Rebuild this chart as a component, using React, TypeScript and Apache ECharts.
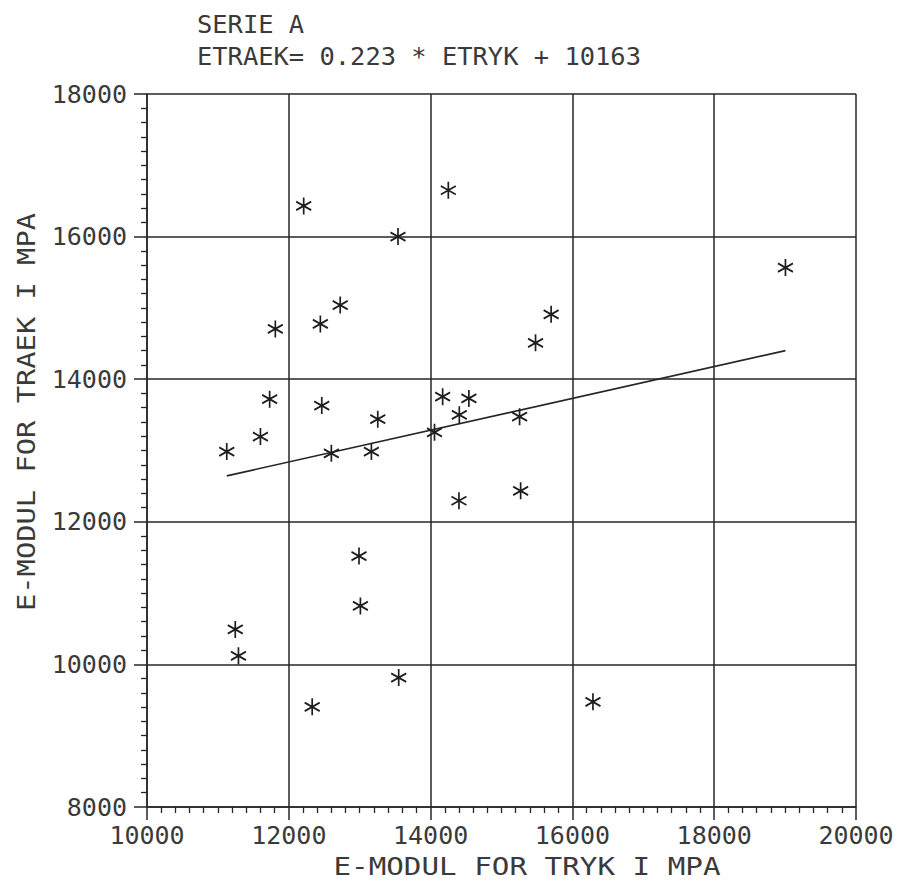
import React, { useEffect, useRef } from "react";
import * as echarts from "echarts";

const titleLines = ["SERIE A", "ETRAEK= 0.223 * ETRYK + 10163"];
const xName = "E-MODUL FOR TRYK I MPA";
const yName = "E-MODUL FOR TRAEK I MPA";

const xMin = 10000, xMax = 20000, xStep = 2000;
const yMin = 8000, yMax = 18000, yStep = 2000;

const eTryk = [
  12210, 14250, 13540, 12725, 12445, 11810, 15700, 15480, 11730, 12465,
  13255, 11600, 11125, 12600, 13165, 14055, 14170, 14540, 14405, 15255,
  14400, 15270, 12990, 13010, 11245, 11290, 13550, 12330, 16290, 19005,
];
const eTraek = [
  16430, 16650, 16000, 15040, 14775, 14705, 14910, 14510, 13720, 13630,
  13440, 13195, 12985, 12960, 12985, 13255, 13755, 13730, 13500, 13475,
  12295, 12435, 11520, 10820, 10490, 10120, 9815, 9405, 9475, 15565,
];
const slope = 0.223;
const intercept = 10163;
const lineX = [11125, 19005];

const INK = "#262626";
const TXT = "#3a3a3a";
const FONT = "'DejaVu Sans Mono', monospace";

export default function App() {
  const ref = useRef<HTMLDivElement>(null);
  useEffect(() => {
    if (!ref.current) return;
    const chart = echarts.init(ref.current, null, { renderer: "svg" });
    const pts = eTryk.map((x, i) => [x, eTraek[i]]);
    const linePts = lineX.map((x) => [x, slope * x + intercept]);
    const fmt = (v: number) => String(v);
    chart.setOption({
      animation: false,
      backgroundColor: "#ffffff",
      grid: { left: 147, top: 94, right: 46, bottom: 76, containLabel: false },
      xAxis: {
        type: "value",
        min: xMin,
        max: xMax,
        interval: xStep,
        axisLine: { show: true, lineStyle: { color: INK, width: 1.5 } },
        axisTick: { show: true, inside: false, length: 13, lineStyle: { color: INK, width: 1.5 } },
        minorTick: { show: true, splitNumber: 10, length: 6, lineStyle: { color: INK, width: 1.3 } },
        splitLine: { show: true, lineStyle: { color: INK, width: 1.5 } },
        axisLabel: { color: TXT, fontFamily: FONT, fontSize: 25, margin: 16, formatter: fmt, showMaxLabel: true, showMinLabel: true },
      },
      yAxis: {
        type: "value",
        min: yMin,
        max: yMax,
        interval: yStep,
        axisLine: { show: true, lineStyle: { color: INK, width: 1.5 } },
        axisTick: { show: true, inside: false, length: 13, lineStyle: { color: INK, width: 1.5 } },
        minorTick: { show: true, splitNumber: 10, length: 6, lineStyle: { color: INK, width: 1.3 } },
        splitLine: { show: true, lineStyle: { color: INK, width: 1.5 } },
        axisLabel: { color: TXT, fontFamily: FONT, fontSize: 25, margin: 20, formatter: fmt, showMaxLabel: true, showMinLabel: true },
      },
      series: [
        {
          type: "scatter",
          data: pts,
          symbol: "path://M0,-1 L0,1 M-0.866,-0.5 L0.866,0.5 M-0.866,0.5 L0.866,-0.5",
          symbolSize: [15, 17],
          itemStyle: { color: "none", borderColor: "#1e1e1e", borderWidth: 1.8, opacity: 1 },
          z: 5,
        },
        {
          type: "line",
          data: linePts,
          showSymbol: false,
          symbol: "none",
          lineStyle: { color: INK, width: 1.6 },
          z: 4,
        },
      ],
      graphic: [
        {
          type: "text",
          x: 197,
          y: 13,
          scaleX: 1.06,
          style: { text: titleLines[0], fill: TXT, font: `24px ${FONT}` },
        },
        {
          type: "text",
          x: 197,
          y: 45,
          scaleX: 1.06,
          style: { text: titleLines[1], fill: TXT, font: `24px ${FONT}` },
        },
        {
          type: "text",
          x: 527,
          y: 866,
          scaleX: 1.17,
          style: { text: xName, fill: TXT, font: `25px ${FONT}`, align: "center", verticalAlign: "middle" },
        },
        {
          type: "text",
          x: 26,
          y: 412,
          rotation: Math.PI / 2,
          scaleX: 1.15,
          style: { text: yName, fill: TXT, font: `25px ${FONT}`, align: "center", verticalAlign: "middle" },
        },
      ],
    });
    return () => chart.dispose();
  }, []);
  return <div ref={ref} style={{ width: 902, height: 883, position: "absolute", left: 0, top: 0 }} />;
}
